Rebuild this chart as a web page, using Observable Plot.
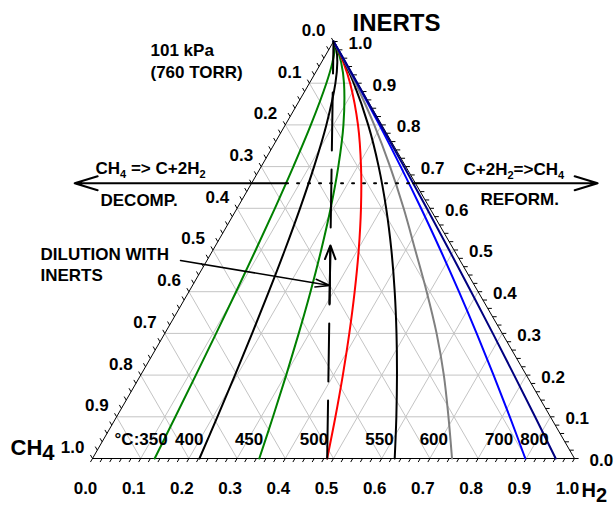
<!DOCTYPE html>
<html><head><meta charset="utf-8">
<script src="https://cdn.jsdelivr.net/npm/d3@7"></script>
<script src="https://cdn.jsdelivr.net/npm/@observablehq/plot@0.6"></script>
<style>
html,body{margin:0;padding:0;background:#fff;}
#chart{width:616px;height:506px;}
</style></head><body><div id="chart"></div>
<script>
// ---------- data ----------
// Equilibrium curves CH4 <=> C + 2H2 at 101 kPa: H2 mole fraction at each INERTS level
const inertLevels = [0, 0.1, 0.2, 0.3, 0.4, 0.5, 0.6, 0.7, 0.8, 0.9, 0.95, 0.98, 1.0];
const temperatures = [350, 400, 450, 500, 550, 600, 700, 800];
const tempLabels = ["°C:350", "400", "450", "500", "550", "600", "700", "800"];
const h2_350 = [0.1290, 0.1219, 0.1144, 0.1065, 0.0979, 0.0886, 0.0784, 0.0667, 0.0530, 0.0352, 0.0228, 0.0122, 0];
const h2_400 = [0.2219, 0.2091, 0.1956, 0.1812, 0.1658, 0.1491, 0.1306, 0.1097, 0.0852, 0.0540, 0.0329, 0.0160, 0];
const h2_450 = [0.3460, 0.3245, 0.3019, 0.2779, 0.2523, 0.2245, 0.1941, 0.1600, 0.1206, 0.0718, 0.0409, 0.0182, 0];
const h2_500 = [0.4869, 0.4540, 0.4194, 0.3828, 0.3439, 0.3023, 0.2570, 0.2071, 0.1508, 0.0845, 0.0455, 0.0192, 0];
const h2_550 = [0.6270, 0.5804, 0.5317, 0.4807, 0.4270, 0.3701, 0.3093, 0.2437, 0.1720, 0.0920, 0.0478, 0.0196, 0];
const h2_600 = [0.7459, 0.6885, 0.6289, 0.5639, 0.4933, 0.4196, 0.3455, 0.2674, 0.1845, 0.0958, 0.0489, 0.0198, 0];
const h2_700 = [0.8979, 0.8158, 0.7321, 0.6470, 0.5603, 0.4718, 0.3816, 0.2894, 0.1952, 0.0988, 0.0497, 0.0199, 0];
const h2_800 = [0.9610, 0.8682, 0.7747, 0.6805, 0.5855, 0.4899, 0.3935, 0.2963, 0.1983, 0.0996, 0.0499, 0.0200, 0];
// Dilution line: from the 500 °C equilibrium point (INERTS = 0) to pure inerts
const dilutionStart = {h2: 0.4869, inerts: 0};
const dilutionEnd = {h2: 0, inerts: 1};
// Decomposition / reforming divide level (INERTS fraction)
const divideInerts = 0.66;
// Axis tick values and labels
const tickValues = [0, 0.1, 0.2, 0.3, 0.4, 0.5, 0.6, 0.7, 0.8, 0.9, 1.0];
const tickLabels = ["0.0", "0.1", "0.2", "0.3", "0.4", "0.5", "0.6", "0.7", "0.8", "0.9", "1.0"];
const gridValues = [0.1, 0.2, 0.3, 0.4, 0.5, 0.6, 0.7, 0.8, 0.9];

// ---------- styles ----------
const curveSeries = [h2_350, h2_400, h2_450, h2_500, h2_550, h2_600, h2_700, h2_800];
const curveColors = ["#008000", "#000000", "#008000", "#ff0000", "#000000", "#808080", "#0000ff", "#000080"];
const tempLabelDx = [13, 4, 4, 1, -1, -4, -12, -7];
const FONT = "'Liberation Sans', Arial, Helvetica, sans-serif";

// ternary -> cartesian
const S = Math.sqrt(3) / 2;
const tx = (h, i) => h + i / 2;
const ty = (h, i) => i * S;

// frame-relative absolute pixel placement (frame top-left = 92,41)
const ML = 92, MT = 41;
const at = (px, py) => ({frameAnchor: "top-left", dx: px - ML, dy: py - MT});

// ---------- grid ----------
const grid = [];
for (const v of gridValues) {
  grid.push({x1: tx(0, v), y1: ty(0, v), x2: tx(1 - v, v), y2: ty(1 - v, v)});
  grid.push({x1: tx(v, 0), y1: ty(v, 0), x2: tx(v, 1 - v), y2: ty(v, 1 - v)});
  grid.push({x1: tx(1 - v, 0), y1: ty(1 - v, 0), x2: tx(0, 1 - v), y2: ty(0, 1 - v)});
}
// ---------- ticks ----------
const TL = 0.0085;
const ticks = [];
for (const t of d3.range(0, 1.0001, 0.02)) {
  ticks.push({x1: tx(t, 0), y1: 0, x2: tx(t, 0) - TL * 0.5, y2: -TL * S});
  ticks.push({x1: tx(1 - t, t), y1: ty(1 - t, t), x2: tx(1 - t, t) + TL, y2: ty(1 - t, t)});
  ticks.push({x1: tx(0, 1 - t), y1: ty(0, 1 - t), x2: tx(0, 1 - t) - TL * 0.5, y2: ty(0, 1 - t) + TL * S});
}
const tickRows = tickValues.map((v, k) => ({v, label: tickLabels[k]}));

const triangle = [[0, 0], [1, 0], [0.5, S], [0, 0]];

const curveMarks = curveSeries.map((arr, k) =>
  Plot.line(inertLevels.map((i, j) => ({h: arr[j], i})), {
    x: d => tx(d.h, d.i), y: d => ty(d.h, d.i),
    stroke: curveColors[k], strokeWidth: 2, curve: "catmull-rom"
  }));

const tempRows = temperatures.map((t, k) => ({h: curveSeries[k][0], label: tempLabels[k], dx: tempLabelDx[k]}));

const dil = i => ({h: dilutionStart.h2 * (1 - i), i});
const dA = dil(0.372), dB = dil(0.511), dTip = dil(0.415);

const dLeft = 0.0716, dRight = 0.3352;
const divY = ty(0, divideInerts);

const txt = (extra) => Object.assign({fontFamily: FONT, fontWeight: "bold", fill: "black"}, extra);

const plot = Plot.plot({
  width: 616, height: 506,
  marginLeft: 92, marginRight: 42, marginTop: 41, marginBottom: 48,
  x: {domain: [0, 1], axis: null},
  y: {domain: [0, S], axis: null},
  style: {fontFamily: FONT, background: "white"},
  marks: [
    Plot.link(grid, {x1: "x1", y1: "y1", x2: "x2", y2: "y2", stroke: "#c4c4c4", strokeWidth: 1}),
    Plot.line(triangle, {x: d => d[0], y: d => d[1], stroke: "black", strokeWidth: 1}),
    Plot.link(ticks, {x1: "x1", y1: "y1", x2: "x2", y2: "y2", stroke: "black", strokeWidth: 1}),
    ...curveMarks,
    Plot.line([dilutionStart, dilutionEnd], {
      x: d => tx(d.h2, d.inerts), y: d => ty(d.h2, d.inerts),
      stroke: "black", strokeWidth: 2, strokeDasharray: "58,19"
    }),
    Plot.arrow([0], {x1: tx(dA.h, dA.i), y1: ty(dA.h, dA.i), x2: tx(dB.h, dB.i), y2: ty(dB.h, dB.i),
      stroke: "black", strokeWidth: 2, headLength: 11, headAngle: 42}),
    Plot.arrow([0], {x1: (180 - 92) / 482, y1: (458 - 260) / 481.6, x2: tx(dTip.h, dTip.i), y2: ty(dTip.h, dTip.i),
      stroke: "black", strokeWidth: 1.5, headLength: 15, headAngle: 30}),
    Plot.line([[tx(dLeft, divideInerts), divY], [tx(dRight, divideInerts), divY]], {
      x: d => d[0], y: d => d[1], stroke: "black", strokeWidth: 2, strokeDasharray: "2,9"}),
    Plot.arrow([0], {x1: tx(dLeft, divideInerts), y1: divY, x2: -0.037, y2: divY,
      stroke: "black", strokeWidth: 2, headLength: 18, headAngle: 34}),
    Plot.arrow([0], {x1: tx(dRight, divideInerts), y1: divY, x2: 1.048, y2: divY,
      stroke: "black", strokeWidth: 2, headLength: 18, headAngle: 34}),
    Plot.text(tickRows, txt({x: d => tx(d.v, 0), y: 0, text: "label", fontSize: 17, dx: -7, dy: 30})),
    Plot.text(tickRows, txt({x: d => tx(1 - d.v, d.v), y: d => ty(1 - d.v, d.v), text: "label", fontSize: 17, textAnchor: "start", dx: 15, dy: 2})),
    Plot.text(tickRows, txt({x: d => tx(0, 1 - d.v), y: d => ty(0, 1 - d.v), text: "label", fontSize: 17, textAnchor: "end", dx: -8, dy: -11})),
    ...tempRows.map(r => Plot.text([r], txt({x: d => tx(d.h, 0), y: 0, text: "label", fontSize: 17, textAnchor: "end", lineAnchor: "bottom", dx: r.dx, dy: -14}))),
    Plot.text(["INERTS"], txt({text: d => d, fontSize: 24, textAnchor: "start", lineAnchor: "bottom", ...at(352, 30)})),
    Plot.text(["CH~4"], txt({text: d => d, fontSize: 22, textAnchor: "start", lineAnchor: "bottom", ...at(10, 454)})),
    Plot.text(["H~2"], txt({text: d => d, fontSize: 20, textAnchor: "start", lineAnchor: "bottom", ...at(581, 496)})),
    Plot.text(["101 kPa"], txt({text: d => d, fontSize: 17, textAnchor: "start", lineAnchor: "bottom", ...at(150, 55)})),
    Plot.text(["(760 TORR)"], txt({text: d => d, fontSize: 17, textAnchor: "start", lineAnchor: "bottom", ...at(150, 77)})),
    Plot.text(["CH_4 => C+2H_2"], txt({text: d => d, fontSize: 17, textAnchor: "start", lineAnchor: "bottom", ...at(95, 173)})),
    Plot.text(["DECOMP."], txt({text: d => d, fontSize: 17, textAnchor: "start", lineAnchor: "bottom", ...at(100, 205)})),
    Plot.text(["C+2H_2=>CH_4"], txt({text: d => d, fontSize: 17, textAnchor: "start", lineAnchor: "bottom", ...at(463, 174)})),
    Plot.text(["REFORM."], txt({text: d => d, fontSize: 17, textAnchor: "start", lineAnchor: "bottom", ...at(480, 204)})),
    Plot.text(["DILUTION WITH"], txt({text: d => d, fontSize: 17, textAnchor: "start", lineAnchor: "bottom", ...at(40, 259)})),
    Plot.text(["INERTS"], txt({text: d => d, fontSize: 17, textAnchor: "start", lineAnchor: "bottom", ...at(40, 280)}))
  ]
});
document.getElementById("chart").appendChild(plot);

// subscripts: "_x" small lowered, "~x" same size lowered
const NS = "http://www.w3.org/2000/svg";
plot.querySelectorAll("text").forEach(el => {
  const s = el.textContent;
  if (!/[_~]/.test(s)) return;
  const segs = []; let buf = "";
  for (let k = 0; k < s.length; k++) {
    const ch = s[k];
    if ((ch === "_" || ch === "~") && k + 1 < s.length) {
      if (buf) segs.push({t: buf});
      buf = "";
      segs.push({t: s[k + 1], sub: ch});
      k++;
    } else buf += ch;
  }
  if (buf) segs.push({t: buf});
  while (el.firstChild) el.removeChild(el.firstChild);
  let shifted = 0;
  for (const sg of segs) {
    const ts = document.createElementNS(NS, "tspan");
    ts.textContent = sg.t;
    if (sg.sub) {
      const d = sg.sub === "_" ? 4 : 5;
      ts.setAttribute("dy", d - shifted);
      shifted = d;
      if (sg.sub === "_") ts.setAttribute("font-size", 11);
    } else if (shifted) {
      ts.setAttribute("dy", -shifted);
      shifted = 0;
    }
    el.appendChild(ts);
  }
});
</script></body></html>
